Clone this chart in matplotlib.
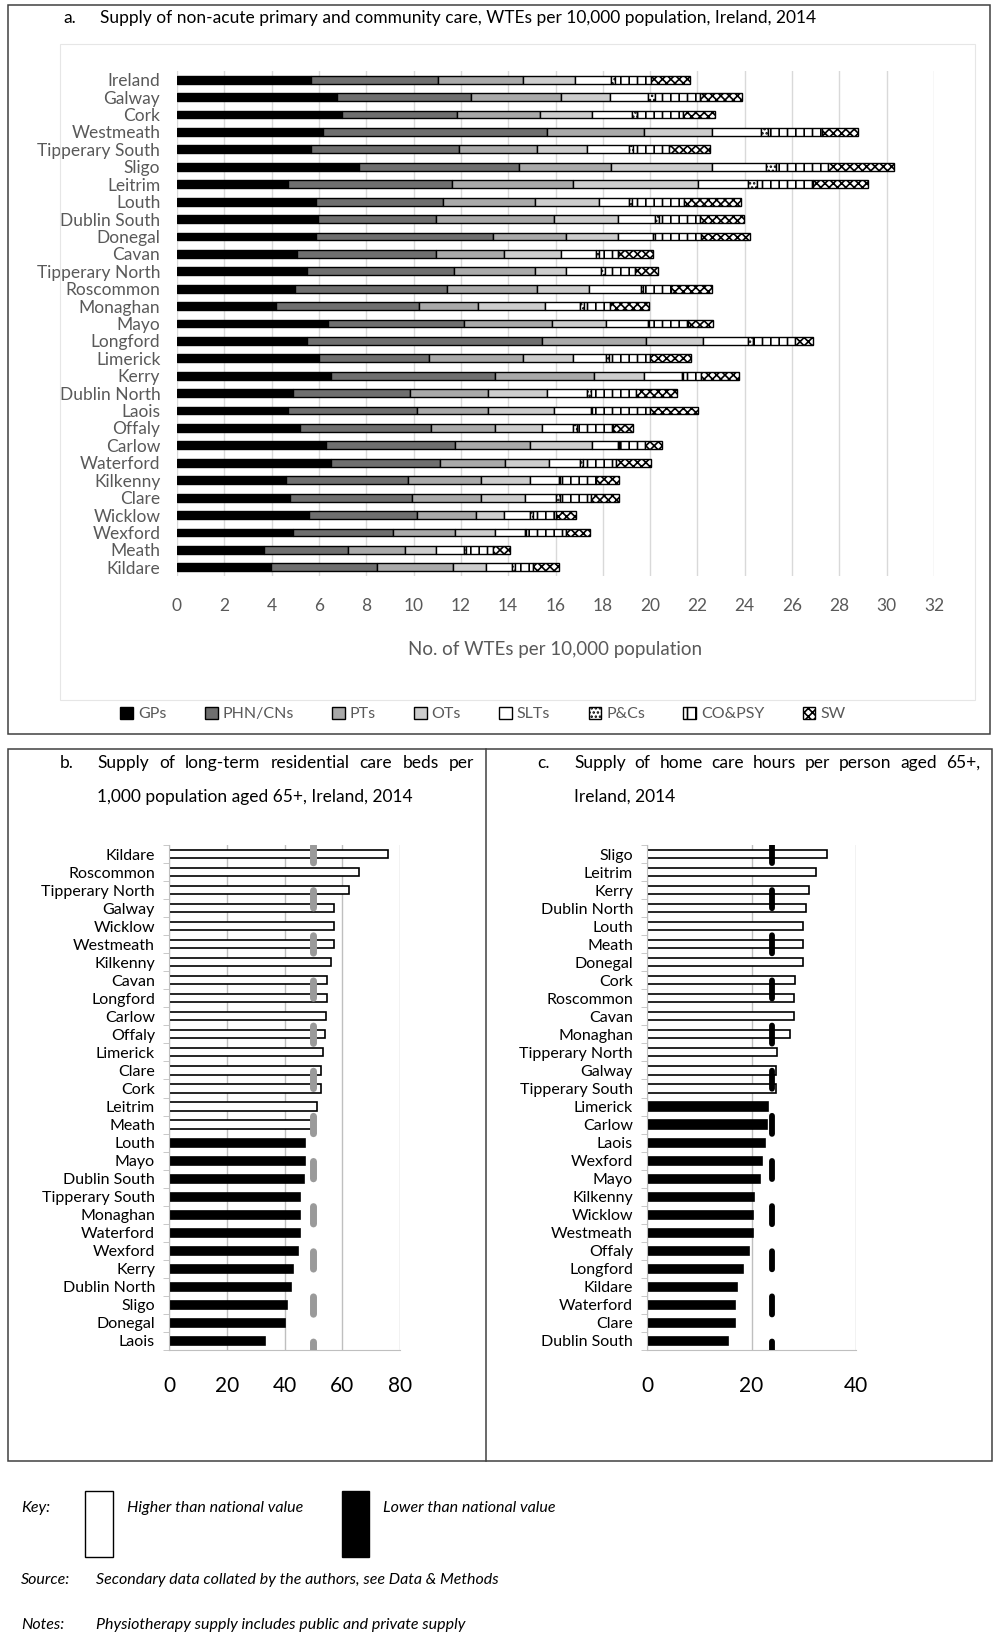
import numpy as np
import matplotlib
matplotlib.use("Agg")
from matplotlib import pyplot as plt
from matplotlib.patches import Rectangle

plt.rcParams['font.family'] = ['Lato', 'DejaVu Sans']
plt.rcParams['hatch.linewidth'] = 1.2
plt.rcParams['lines.scale_dashes'] = False

# ---- panel a: WTEs per 10,000 population, by staff group ----
areas_a = ["Ireland", "Galway", "Cork", "Westmeath", "Tipperary South", "Sligo",
           "Leitrim", "Louth", "Dublin South", "Donegal", "Cavan", "Tipperary North",
           "Roscommon", "Monaghan", "Mayo", "Longford", "Limerick", "Kerry",
           "Dublin North", "Laois", "Offaly", "Carlow", "Waterford", "Kilkenny",
           "Clare", "Wicklow", "Wexford", "Meath", "Kildare"]
gps = [5.68, 6.78, 6.99, 6.17, 5.68, 7.68, 4.69, 5.89, 5.97, 5.89, 5.07, 5.50, 4.99, 4.19,
       6.40, 5.50, 5.99, 6.50, 4.90, 4.69, 5.19, 6.28, 6.50, 4.59, 4.79, 5.58, 4.90, 3.68, 3.98]
phn = [5.37, 5.66, 4.85, 9.47, 6.24, 6.76, 6.94, 5.34, 4.97, 7.45, 5.87, 6.23, 6.44, 6.04,
       5.72, 9.94, 4.65, 6.94, 4.94, 5.46, 5.54, 5.46, 4.62, 5.16, 5.16, 4.57, 4.22, 3.56, 4.47]
pts = [3.57, 3.79, 3.49, 4.10, 3.31, 3.89, 5.11, 3.90, 5.00, 3.09, 2.90, 3.40, 3.80, 2.51,
       3.73, 4.40, 4.00, 4.20, 3.31, 3.00, 2.72, 3.20, 2.73, 3.08, 2.90, 2.48, 2.63, 2.40, 3.21]
ots = [2.22, 2.09, 2.20, 2.89, 2.10, 4.30, 5.30, 2.71, 2.69, 2.20, 2.39, 1.30, 2.20, 2.80,
       2.27, 2.39, 2.10, 2.10, 2.48, 2.79, 1.99, 2.59, 1.87, 2.09, 1.87, 1.21, 1.69, 1.29, 1.42]
slts = [1.52, 1.59, 1.70, 2.07, 1.79, 2.28, 2.08, 1.28, 1.59, 1.49, 1.49, 1.51, 2.20, 1.48,
        1.80, 1.90, 1.41, 1.61, 1.71, 1.57, 1.30, 1.11, 1.33, 1.23, 1.30, 1.10, 1.28, 1.20, 1.07]
pcs = [0.15, 0.30, 0.20, 0.30, 0.15, 0.39, 0.38, 0.10, 0.15, 0.10, 0.13, 0.16, 0.05, 0.18,
       0.05, 0.20, 0.10, 0.05, 0.15, 0.05, 0.15, 0.05, 0.10, 0.05, 0.15, 0.10, 0.05, 0.10, 0.13]
copsy = [1.54, 1.88, 1.96, 2.28, 1.53, 2.22, 2.38, 2.20, 1.72, 1.94, 0.79, 1.24, 1.21, 1.09,
         1.64, 1.78, 1.76, 0.76, 1.93, 2.42, 1.54, 1.08, 1.42, 1.52, 1.34, 0.99, 1.69, 1.13, 0.78]
sw = [1.65, 1.79, 1.36, 1.49, 1.74, 2.78, 2.31, 2.42, 1.88, 2.06, 1.48, 1.01, 1.74, 1.65,
      1.05, 0.77, 1.73, 1.58, 1.71, 2.06, 0.83, 0.72, 1.48, 0.95, 1.16, 0.82, 0.98, 0.73, 1.07]
names_a = ["GPs", "PHN/CNs", "PTs", "OTs", "SLTs", "P&Cs", "CO&PSY", "SW"]

# ---- panel b: long-term residential care beds per 1,000 aged 65+ ----
areas_b = ["Kildare", "Roscommon", "Tipperary North", "Galway", "Wicklow", "Westmeath",
           "Kilkenny", "Cavan", "Longford", "Carlow", "Offaly", "Limerick", "Clare", "Cork",
           "Leitrim", "Meath", "Louth", "Mayo", "Dublin South", "Tipperary South", "Monaghan",
           "Waterford", "Wexford", "Kerry", "Dublin North", "Sligo", "Donegal", "Laois"]
beds = [75.7, 65.7, 62.5, 57.1, 57.0, 57.0, 56.1, 54.8, 54.7, 54.3, 53.9, 53.4, 52.8, 52.6,
        51.2, 50.3, 47.1, 47.0, 46.6, 45.5, 45.4, 45.2, 44.7, 43.0, 42.4, 41.0, 40.2, 33.1]
beds_national = 49.7

# ---- panel c: home care hours per person aged 65+ ----
areas_c = ["Sligo", "Leitrim", "Kerry", "Dublin North", "Louth", "Meath", "Donegal", "Cork",
           "Roscommon", "Cavan", "Monaghan", "Tipperary North", "Galway", "Tipperary South",
           "Limerick", "Carlow", "Laois", "Wexford", "Mayo", "Kilkenny", "Wicklow",
           "Westmeath", "Offaly", "Longford", "Kildare", "Waterford", "Clare", "Dublin South"]
hours = [34.4, 32.4, 31.0, 30.5, 29.9, 29.9, 29.8, 28.3, 28.2, 28.1, 27.4, 24.8, 24.7, 24.6,
         23.1, 23.0, 22.6, 22.0, 21.6, 20.5, 20.3, 20.2, 19.6, 18.3, 17.3, 16.9, 16.9, 15.5]
hours_national = 24.0

W, H = 1000, 1636
GREY = '#595959'


def rect(x0, y0, x1, y1):
    return [x0 / W, 1 - y1 / H, (x1 - x0) / W, (y1 - y0) / H]


def box(fig, x0, y0, x1, y1, ec='#404040', lw=1.1, fc='none', z=0):
    fig.patches.append(Rectangle((x0 / W, 1 - y1 / H), (x1 - x0) / W, (y1 - y0) / H,
                                 transform=fig.transFigure, fill=(fc != 'none'),
                                 facecolor=fc, edgecolor=ec, lw=lw, zorder=z))


def ftext(fig, x, y, s, **kw):
    return fig.text(x / W, 1 - y / H, s, va='center', **kw)


def justify(fig, s, x0, x1, y, size):
    r = fig.canvas.get_renderer()
    ts = [fig.text(0, 0, w, fontsize=size) for w in s.split()]
    widths = [t.get_window_extent(r).width for t in ts]
    gap = (x1 - x0 - sum(widths)) / (len(ts) - 1)
    x = x0
    for t, w in zip(ts, widths):
        t.set_position((x / W, 1 - y / H))
        t.set_va('center')
        x += w + gap


fig = plt.figure(figsize=(10, 16.36), dpi=100)

# outer frames
box(fig, 8, 5, 990, 734)
box(fig, 8, 749, 992, 1461)
fig.add_artist(plt.Line2D([486 / W, 486 / W], [1 - 749 / H, 1 - 1461 / H],
                          transform=fig.transFigure, color='#404040', lw=1.1))
box(fig, 60, 44, 975, 700, ec='#e6e6e6', lw=0.8)

# ---------- panel a ----------
ftext(fig, 63, 18, "a.", fontsize=12.5)
ftext(fig, 100, 18, "Supply of non-acute primary and community care, WTEs per 10,000 "
      "population, Ireland, 2014", fontsize=12.5)

ax = fig.add_axes(rect(177, 71, 934, 576))
ya = np.arange(len(areas_a))
colors = ['black', '#6f6f6f', '#a9a9a9', '#cdcdcd', 'white', 'white', 'white', 'white']
hatches = [None, None, None, None, None, '....', '||', 'xxxx']
left = np.zeros(len(areas_a))
for vals, fc, ht, nm in zip([gps, phn, pts, ots, slts, pcs, copsy, sw], colors, hatches, names_a):
    ax.barh(ya, vals, left=left, height=0.45, color=fc, edgecolor='black',
            linewidth=1.0, hatch=ht, label=nm)
    left += np.array(vals)
ax.set_ylim(len(areas_a) - 0.5, -0.5)
ax.set_yticks(ya)
ax.set_yticklabels(areas_a)
ax.set_xlim(0, 32)
ax.set_xticks(range(0, 33, 2))
ax.grid(axis='x', color='#d9d9d9', lw=1)
ax.set_axisbelow(True)
for s in ax.spines.values():
    s.set_visible(False)
ax.tick_params(length=0, colors=GREY, labelsize=12.5)
ax.tick_params(axis='y', pad=12)
ax.tick_params(axis='x', pad=16)
ax.set_xlabel("No. of WTEs per 10,000 population", color=GREY, fontsize=13.5, labelpad=19)

h, l = ax.get_legend_handles_labels()
fig.legend(h, l, loc='center', bbox_to_anchor=(0.483, 1 - 714 / H), ncol=8, frameon=False,
           fontsize=11.5, handlelength=0.8, handleheight=0.8, columnspacing=2.4,
           handletextpad=0.3, labelcolor=GREY)


# ---------- panels b and c ----------
def side_panel(x0, x1, areas, vals, nat, xmax, step, dash_col, dash_lw, dash):
    axp = fig.add_axes(rect(x0, 845, x1, 1350))
    yy = np.arange(len(areas))
    fcs = ['white' if v > nat else 'black' for v in vals]
    axp.barh(yy, vals, height=0.45, color=fcs, edgecolor='black', linewidth=1.2, zorder=2)
    axp.plot([nat, nat], [-0.5, len(areas) - 0.5], color=dash_col, lw=dash_lw,
             dashes=dash, dash_capstyle='round', zorder=3)
    axp.set_ylim(len(areas) - 0.5, -0.5)
    axp.set_yticks(yy)
    axp.set_yticklabels(areas)
    axp.set_yticks(np.arange(-0.5, len(areas), 1), minor=True)
    axp.set_xlim(0, xmax)
    axp.set_xticks(np.arange(0, xmax + 1, step))
    axp.grid(axis='x', color='#bfbfbf', lw=1, zorder=0)
    axp.set_axisbelow(True)
    for s in ['top', 'right']:
        axp.spines[s].set_visible(False)
    for s in ['left', 'bottom']:
        axp.spines[s].set_color('#bfbfbf')
    axp.tick_params(axis='y', which='major', length=0, labelsize=11.5, pad=10)
    axp.tick_params(axis='y', which='minor', length=4, color='#bfbfbf')
    axp.tick_params(axis='x', length=0, labelsize=15, pad=19)
    return axp


side_panel(169, 400, areas_b, beds, beds_national, 80, 20, '#9a9a9a', 5, (12.5, 20))
side_panel(647, 856, areas_c, hours, hours_national, 40, 20, 'black', 4.2, (13, 19.5))

justify(fig, "Supply of long-term residential care beds per", 97, 474, 763, 12.5)
ftext(fig, 60, 763, "b.", fontsize=12.5)
ftext(fig, 97, 797, "1,000 population aged 65+, Ireland, 2014", fontsize=12.5)

justify(fig, "Supply of home care hours per person aged 65+,", 574, 980, 763, 12.5)
ftext(fig, 537, 763, "c.", fontsize=12.5)
ftext(fig, 574, 797, "Ireland, 2014", fontsize=12.5)

# ---------- key and notes ----------
box(fig, 85, 1491, 113, 1557, ec='black', lw=1, fc='white', z=2)
box(fig, 342, 1491, 369, 1557, ec='black', lw=1, fc='black', z=2)
ftext(fig, 21, 1508, "Key:", fontsize=11.5, style='italic')
ftext(fig, 127, 1508, "Higher than national value", fontsize=11.5, style='italic')
ftext(fig, 383, 1508, "Lower than national value", fontsize=11.5, style='italic')
ftext(fig, 21, 1580, "Source:", fontsize=11.5, style='italic')
ftext(fig, 96, 1580, "Secondary data collated by the authors, see Data & Methods",
      fontsize=11.5, style='italic')
ftext(fig, 21, 1625, "Notes:", fontsize=11.5, style='italic')
ftext(fig, 96, 1625, "Physiotherapy supply includes public and private supply",
      fontsize=11.5, style='italic')

fig.savefig("out.png", dpi=100)
